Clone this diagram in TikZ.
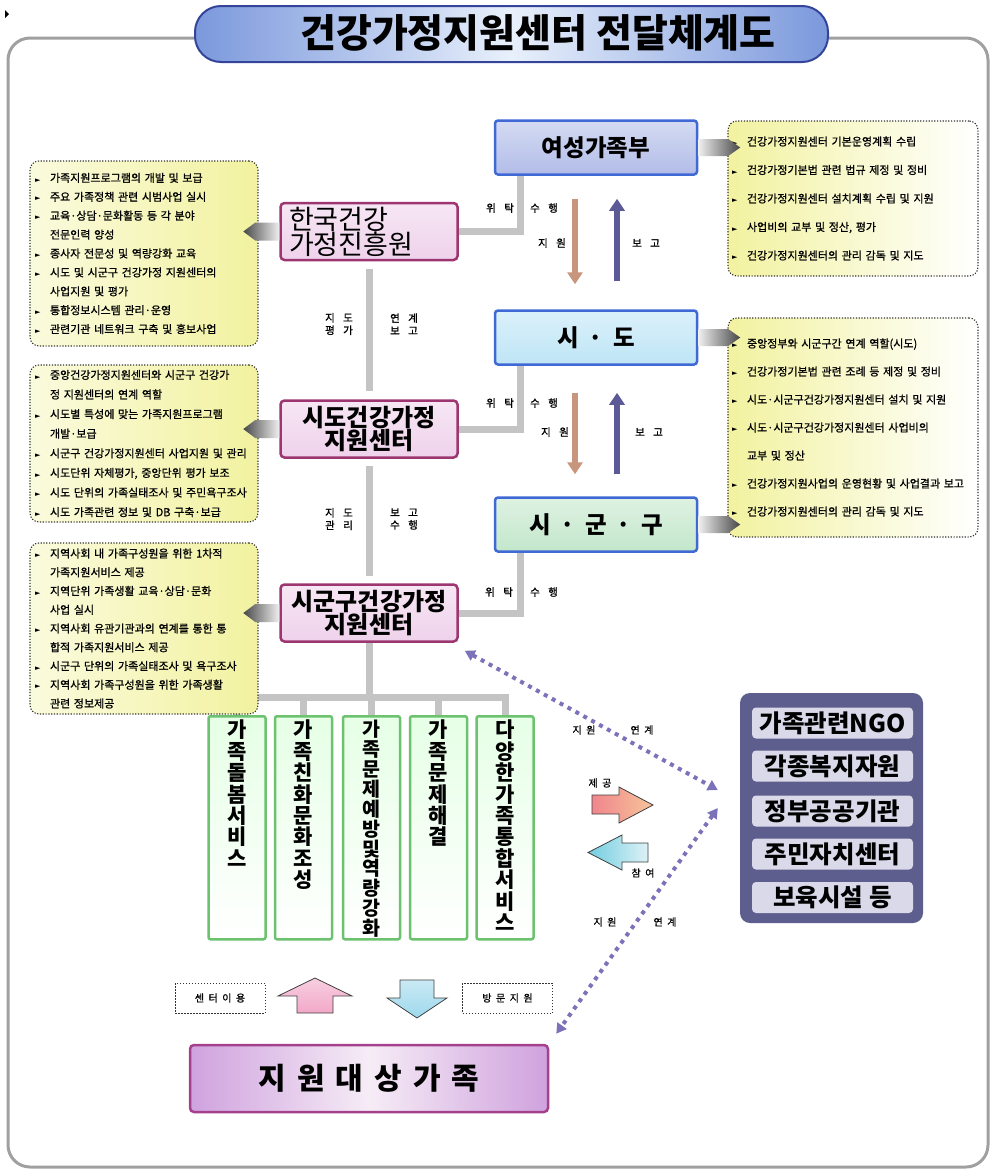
\documentclass[tikz,border=0pt]{standalone}
\usepackage{fontspec}
\setmainfont{Noto Sans CJK KR}
\newfontfamily\symf{DejaVu Sans}
\newfontfamily\smallf{Noto Sans CJK KR}[FakeBold=0.9]
\newfontfamily\lblA{Noto Sans CJK KR}[LetterSpace=80,FakeBold=1]
\newfontfamily\lblB{Noto Sans CJK KR}[LetterSpace=45,FakeBold=1]
\usetikzlibrary{arrows.meta,backgrounds,calc}

\definecolor{ylw}{HTML}{F2F2A0}
\definecolor{pinkfill}{HTML}{EFD2EB}
\definecolor{pinkdraw}{HTML}{9C3570}
\definecolor{bluedraw}{HTML}{4169D6}
\definecolor{mogeffill}{HTML}{B2BDE8}
\definecolor{sidofill}{HTML}{BEE5F6}
\definecolor{sggfill}{HTML}{C3E7CB}
\definecolor{glinec}{HTML}{C4C4C4}
\definecolor{greendraw}{HTML}{6DC26F}
\definecolor{ngofill}{HTML}{5E5E8E}
\definecolor{ngoin}{HTML}{D9D9E9}
\definecolor{dotc}{HTML}{7B72BA}
\definecolor{brownarr}{HTML}{C8967C}
\definecolor{bluearr}{HTML}{5C5A96}
\definecolor{framec}{HTML}{A0A0A0}
\definecolor{titleb}{HTML}{7B98DC}
\definecolor{titlel}{HTML}{E8F0FB}
\definecolor{titled}{HTML}{34449A}
\definecolor{tgtdraw}{HTML}{A4408C}
\definecolor{tgtedge}{HTML}{CFA2DE}
\definecolor{tgtmid}{HTML}{F6ECF6}
\definecolor{pinkup}{HTML}{F2A8C8}
\definecolor{cyandn}{HTML}{9ED8EC}
\definecolor{givel}{HTML}{F0868C}
\definecolor{giver}{HTML}{F6C49A}
\definecolor{takel}{HTML}{72CDE0}
\definecolor{taker}{HTML}{DDF2F6}

\newcommand\bitem[1]{\mbox{\makebox[15pt][l]{\symf\fontsize{7}{7}\selectfont ►}#1}}
\newcommand\bcont[1]{\mbox{\hspace*{15pt}#1}}
\newcommand\chevR[1]{\path[left color=black!6, right color=black!72] ($(#1)+(0,-8.5)$) -- ++(30,0) -- ++(12,8.5) -- ++(-12,8.5) -- ++(-30,0) -- cycle;}
\newcommand\chevL[1]{\path[left color=black!72, right color=black!6] ($(#1)+(0,-9)$) -- ++(-24,0) -- ++(-12,9) -- ++(12,9) -- ++(24,0) -- cycle;}

\tikzset{
 gcon/.style={draw=glinec, line width=7pt},
 orgbox/.style={draw=bluedraw, line width=2.5pt, rounded corners=3pt, minimum width=202pt, minimum height=54pt, font=\bfseries\fontsize{23.5}{23.5}\selectfont},
 pinkbox/.style={draw=pinkdraw, line width=2.5pt, rounded corners=4pt, top color=pinkfill!55!white, bottom color=pinkfill, minimum width=177pt, minimum height=57pt, inner xsep=3pt, align=center},
 tboxL/.style={draw=black!80, line width=1.1pt, dash pattern=on 1.2pt off 1.6pt, rounded corners=9pt, left color=ylw!35!white, right color=ylw, align=left, inner xsep=5pt, inner ysep=2pt, text width=218pt},
 tboxR/.style={draw=black!80, line width=1.1pt, dash pattern=on 1.2pt off 1.6pt, rounded corners=9pt, left color=ylw, right color=white, align=left, inner xsep=4pt, inner ysep=2pt, text width=242pt, font=\smallf\fontsize{11}{28.5}\selectfont},
 greenbox/.style={draw=greendraw, line width=2.5pt, rounded corners=2pt, top color=green!10!white, bottom color=white, minimum width=57pt, minimum height=223pt, anchor=north},
 vtext/.style={anchor=north, inner sep=0pt, text width=26pt, align=center, font=\bfseries\fontsize{21}{21.4}\selectfont},
 ngoitem/.style={fill=ngoin, rounded corners=4pt, minimum width=161pt, minimum height=31pt, inner sep=0pt, font=\bfseries\fontsize{24.5}{24.5}\selectfont},
 lbl/.style={font=\lblA\fontsize{10.5}{12.5}\selectfont, inner sep=0pt, align=center},
 lbls/.style={font=\lblB\fontsize{10}{12.5}\selectfont, inner sep=0pt, align=center},
 dotcon/.style={draw=dotc, line width=4pt, dash pattern=on 4pt off 5pt, {Triangle[length=10pt,width=11pt]}-{Triangle[length=10pt,width=11pt]}},
 vdown/.style={draw=brownarr, line width=6pt, -{Triangle[length=12pt,width=15pt]}},
 vup/.style={draw=bluearr, line width=6pt, -{Triangle[length=12pt,width=15pt]}},
 dbox/.style={draw=black!80, dash pattern=on 1.5pt off 1.5pt, line width=0.9pt, minimum width=90pt, minimum height=30pt, font=\lblB\fontsize{10}{12}\selectfont},
}

\begin{document}
\begin{tikzpicture}[x=1pt,y=-1pt]
\useasboundingbox (0,0) rectangle (993,1173);
\begin{pgfonlayer}{background}
\fill[white] (0,0) rectangle (993,1173);
\end{pgfonlayer}

% small mark top-left
\fill (5,10) -- (9,14) -- (5,18) -- cycle;

% outer frame
\draw[draw=framec, line width=3pt, rounded corners=22pt] (205,38) -- (8,38) -- (8,1167) -- (988,1167) -- (988,38) -- (818,38);

% title
\node[draw=titled, line width=2pt, rounded corners=26pt, minimum width=633pt, minimum height=56pt, left color=titleb, right color=titleb, middle color=titlel, inner sep=0pt] (title) at (511.5,34) {};
\node[font=\bfseries\fontsize{39}{39}\selectfont, inner sep=0pt] (titletext) at (538,33) {건강가정지원센터 전달체계도};

% government column
\node[orgbox, top color=mogeffill!55!white, bottom color=mogeffill] (mogef) at (596,147.5) {여성가족부};
\node[orgbox, top color=sidofill!55!white, bottom color=sidofill] (sido) at (596,337.5) {\spaceskip=10pt 시 · 도};
\node[orgbox, top color=sggfill!55!white, bottom color=sggfill] (sgg) at (596,524.5) {\spaceskip=10pt 시 · 군 · 구};

% center column
\node[pinkbox, font=\fontsize{27}{25}\selectfont, text width=160pt, align=left] (hk) at (369,231.5) {한국건강\\가정진흥원};
\node[pinkbox, font=\bfseries\fontsize{24}{21.5}\selectfont] (sidoc) at (369,429) {시도건강가정\\지원센터};
\node[pinkbox, font=\bfseries\fontsize{24}{22}\selectfont] (sggc) at (369,613) {시군구건강가정\\지원센터};

% service boxes
\node[greenbox] (g1) at (237,715) {};
\node[greenbox] (g2) at (303.5,715) {};
\node[greenbox] (g3) at (371.5,715) {};
\node[greenbox] (g4) at (438.5,715) {};
\node[greenbox] (g5) at (505,715) {};
\node[vtext] (g1t) at ($(g1.north)+(0,5)$) {가\\족\\돌\\봄\\서\\비\\스};
\node[vtext] (g2t) at ($(g2.north)+(0,5)$) {가\\족\\친\\화\\문\\화\\조\\성};
\node[vtext, font=\bfseries\fontsize{19.5}{19.9}\selectfont] (g3t) at ($(g3.north)+(0,5)$) {가\\족\\문\\제\\예\\방\\및\\역\\량\\강\\화};
\node[vtext] (g4t) at ($(g4.north)+(0,5)$) {가\\족\\문\\제\\해\\결};
\node[vtext] (g5t) at ($(g5.north)+(0,5)$) {다\\양\\한\\가\\족\\통\\합\\서\\비\\스};

% connectors (background)
\coordinate (bar) at (369,697);
\begin{pgfonlayer}{background}
\draw[gcon] ($(mogef.south)+(-76,0)$) |- (hk.east);
\draw[gcon] ($(sido.south)+(-76,0)$) |- (sidoc.east);
\draw[gcon] ($(sgg.south)+(-76,0)$) |- (sggc.east);
\draw[gcon, shorten <=8pt, shorten >=8pt] (hk.south) -- (sidoc.north);
\draw[gcon, shorten <=7pt, shorten >=7pt] (sidoc.south) -- (sggc.north);
\draw[gcon] (sggc.south) -- (bar);
\foreach \g in {g1,g2,g3,g4,g5} \draw[gcon] (\g.north) |- (bar);
\end{pgfonlayer}

% text boxes
\node[tboxL, minimum height=185pt, font=\smallf\fontsize{11}{18.9}\selectfont] (t1) at (144,253.5) {%
\bitem{가족지원프로그램의 개발 및 보급}\\
\bitem{주요 가족정책 관련 시범사업 실시}\\
\bitem{교육·상담·문화활동 등 각 분야}\\
\bcont{전문인력 양성}\\
\bitem{종사자 전문성 및 역량강화 교육}\\
\bitem{시도 및 시군구 건강가정 지원센터의}\\
\bcont{사업지원 및 평가}\\
\bitem{통합정보시스템 관리·운영}\\
\bitem{관련기관 네트워크 구축 및 홍보사업}};
\node[tboxL, minimum height=157pt, font=\smallf\fontsize{11}{19.6}\selectfont] (t2) at (144,443.5) {%
\bitem{중앙건강가정지원센터와 시군구 건강가}\\
\bcont{정 지원센터의 연계 역할}\\
\bitem{시도별 특성에 맞는 가족지원프로그램}\\
\bcont{개발·보급}\\
\bitem{시군구 건강가정지원센터 사업지원 및 관리}\\
\bitem{시도단위 자체평가, 중앙단위 평가 보조}\\
\bitem{시도 단위의 가족실태조사 및 주민욕구조사}\\
\bitem{시도 가족관련 정보 및 DB 구축·보급}};
\node[tboxL, minimum height=171pt, font=\smallf\fontsize{11}{18.75}\selectfont] (t3) at (144,628.5) {%
\bitem{지역사회 내 가족구성원을 위한 1차적}\\
\bcont{가족지원서비스 제공}\\
\bitem{지역단위 가족생활 교육·상담·문화}\\
\bcont{사업 실시}\\
\bitem{지역사회 유관기관과의 연계를 통한 통}\\
\bcont{합적 가족지원서비스 제공}\\
\bitem{시군구 단위의 가족실태조사 및 욕구조사}\\
\bitem{지역사회 가족구성원을 위한 가족생활}\\
\bcont{관련 정보제공}};
\node[tboxR, minimum height=155pt] (r1) at (853,198.5) {%
\bitem{건강가정지원센터 기본운영계획 수립}\\
\bitem{건강가정기본법 관련 법규 제정 및 정비}\\
\bitem{건강가정지원센터 설치계획 수립 및 지원}\\
\bitem{사업비의 교부 및 정산, 평가}\\
\bitem{건강가정지원센터의 관리 감독 및 지도}};
\node[tboxR, minimum height=219pt, font=\smallf\fontsize{11}{28}\selectfont] (r2) at (853,427.5) {%
\bitem{중앙정부와 시군구간 연계 역할(시도)}\\
\bitem{건강가정기본법 관련 조례 등 제정 및 정비}\\
\bitem{시도·시군구건강가정지원센터 설치 및 지원}\\
\bitem{시도·시군구건강가정지원센터 사업비의}\\
\bcont{교부 및 정산}\\
\bitem{건강가정지원사업의 운영현황 및 사업결과 보고}\\
\bitem{건강가정지원센터의 관리 감독 및 지도}};

% chevrons
\chevR{mogef.east}
\chevR{sido.east}
\chevR{sgg.east}
\chevL{hk.west}
\chevL{sidoc.west}
\chevL{sggc.west}

% vertical arrows
\draw[vdown] ($(mogef.south)+(-21,23)$) -- ($(sido.north)+(-21,-25)$);
\draw[vup] ($(sido.north)+(21,-28)$) -- ($(mogef.south)+(21,23)$);
\draw[vdown] ($(sido.south)+(-21,27)$) -- ($(sgg.north)+(-21,-22)$);
\draw[vup] ($(sgg.north)+(21,-22)$) -- ($(sido.south)+(21,27)$);

% labels center
\node[lbl] (w1a) at (500,208) {위탁};
\node[lbl] (w1b) at (544,208) {수행};
\node[lbl] (s1) at (552,243) {지원};
\node[lbl] (b1) at (646,243) {보고};
\node[lbl] (w2a) at (500,403) {위탁};
\node[lbl] (w2b) at (544,403) {수행};
\node[lbl] (s2) at (555,432) {지원};
\node[lbl] (b2) at (649,432) {보고};
\node[lbl] (w3a) at (499,592) {위탁};
\node[lbl] (w3b) at (544,592) {수행};
\node[lbl] (l1) at (339,324) {지도\\평가};
\node[lbl] (l2) at (404,324) {연계\\보고};
\node[lbl] (l3) at (339,519) {지도\\관리};
\node[lbl] (l4) at (404,519) {보고\\수행};

% partners
\node[fill=ngofill, rounded corners=10pt, minimum width=183pt, minimum height=230pt] (ngo) at (831.5,808) {};
\node[ngoitem] (n1) at (832.5,723) {가족관련NGO};
\node[ngoitem] (n2) at (832.5,766) {각종복지자원};
\node[ngoitem] (n3) at (832.5,811) {정부공공기관};
\node[ngoitem] (n4) at (832.5,854) {주민자치센터};
\node[ngoitem] (n5) at (832.5,897.5) {보육시설 등};

% target
\node[draw=tgtdraw, line width=2.5pt, rounded corners=4pt, left color=tgtedge, right color=tgtedge, middle color=tgtmid, minimum width=358pt, minimum height=67pt, font=\bfseries\fontsize{30}{30}\selectfont] (tgt) at (369,1078.5) {\spaceskip=11pt 지 원 대 상 가 족};

\node[dbox] (use) at (220,998) {센터이용};
\node[dbox] (visit) at (507.5,998) {방문지원};

% fat arrows
\path[draw=black!75, line width=0.8pt, top color=pinkup!55!white, bottom color=pinkup] (315,978) -- (352,996) -- (333,996) -- (333,1013) -- (297,1013) -- (297,996) -- (278,996) -- cycle;
\path[draw=black!75, line width=0.8pt, top color=cyandn!55!white, bottom color=cyandn] (400,980) -- (434,980) -- (434,998) -- (447,998) -- (417,1018) -- (387,998) -- (400,998) -- cycle;
\path[draw=black!75, line width=0.8pt, left color=givel, right color=giver] (592,795) -- (619,795) -- (619,787) -- (653,805) -- (619,823) -- (619,814) -- (592,814) -- cycle;
\path[draw=black!75, line width=0.8pt, left color=takel, right color=taker] (648,843) -- (622,843) -- (622,835) -- (588,852.5) -- (622,870) -- (622,862) -- (648,862) -- cycle;

% dotted links
\draw[dotcon] ($(sggc.south east)+(6,8)$) -- ($(ngo.west)+(-22,-18)$);
\draw[dotcon] ($(ngo.west)+(-22,0)$) -- ($(tgt.north east)+(7,-10)$);

\node[lbls] (la1) at (584,730) {지원};
\node[lbls] (la2) at (642,730) {연계};
\node[lbls] (lb1) at (605,922) {지원};
\node[lbls] (lb2) at (665,922) {연계};
\node[lbls] (give) at (600,783) {제공};
\node[lbls] (take) at (643,873) {참여};
\end{tikzpicture}
\end{document}
